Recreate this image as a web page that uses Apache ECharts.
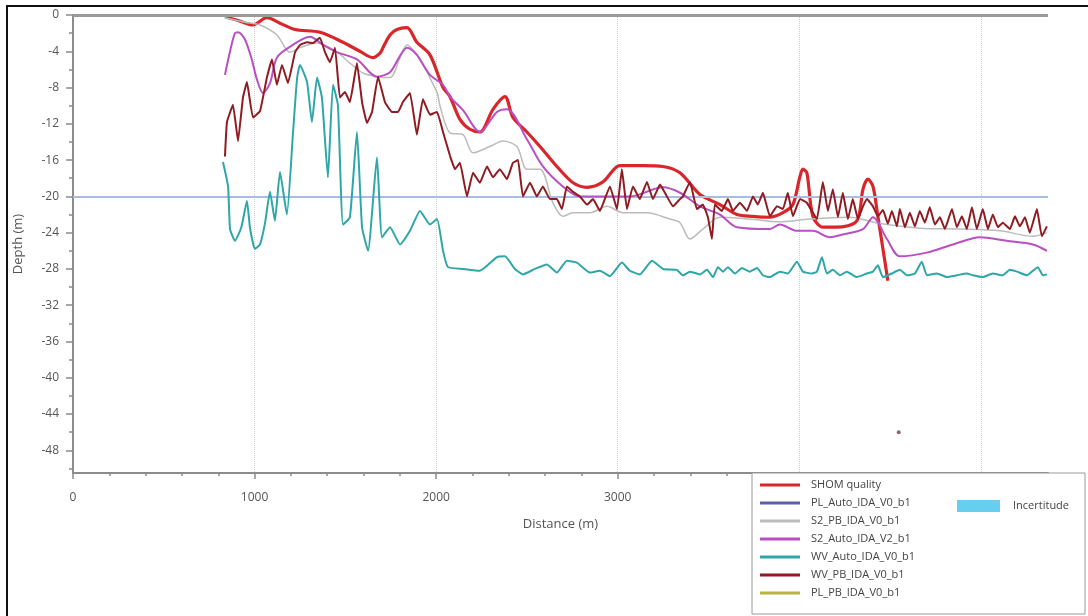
<!DOCTYPE html>
<html>
<head>
<meta charset="utf-8">
<script src="https://cdn.jsdelivr.net/npm/echarts@6/dist/echarts.min.js"></script>
<style>html,body{margin:0;padding:0;background:#fff}#c{width:1088px;height:616px}</style>
</head>
<body>
<div id="c"></div>
<script>
const seriesNames = ['SHOM quality','PL_Auto_IDA_V0_b1','S2_PB_IDA_V0_b1','S2_Auto_IDA_V2_b1','WV_Auto_IDA_V0_b1','WV_PB_IDA_V0_b1','PL_PB_IDA_V0_b1'];
const yTickLabels = [0,-4,-8,-12,-16,-20,-24,-28,-32,-36,-40,-44,-48];
const yMinorTicks = [-2,-6,-10,-14,-18,-22,-26,-30,-34,-38,-42,-46,-50];
const xTickLabels = [0,1000,2000,3000,4000,5000];
const referenceLines = [0,-20];

const shomQuality = [[837,-0.2],[909,-0.6],[991,-1.1],[1068,-0.3],[1140,-0.9],[1223,-1.6],[1360,-1.9],[1487,-3.0],[1580,-4.0],[1652,-4.7],[1691,-4.2],[1707,-3.6],[1746,-2.2],[1784,-1.6],[1839,-1.4],[1894,-3.0],[1966,-4.4],[2038,-8.0],[2076,-9.0],[2131,-11.5],[2186,-12.6],[2241,-12.9],[2313,-10.4],[2379,-9.0],[2423,-11.3],[2500,-12.9],[2572,-14.5],[2665,-16.7],[2754,-18.5],[2831,-19.0],[2919,-18.4],[3012,-16.6],[3139,-16.6],[3249,-16.7],[3343,-17.4],[3453,-19.8],[3563,-20.9],[3657,-22.0],[3745,-22.2],[3838,-22.3],[3910,-21.8],[3965,-20.9],[4004,-17.8],[4020,-17.0],[4042,-17.4],[4075,-22.2],[4130,-23.4],[4207,-23.4],[4317,-22.7],[4351,-19.2],[4378,-18.1],[4406,-18.9],[4433,-22.2],[4461,-25.8],[4488,-29.3]];
const shomIsolated = [[4548,-46]];
const plAuto = [];
const s2Pb = [[837,-0.3],[947,-0.8],[1030,-1.1],[1123,-2.2],[1195,-4.1],[1250,-3.6],[1344,-3.1],[1454,-4.1],[1525,-5.3],[1597,-6.4],[1674,-6.8],[1746,-6.9],[1801,-4.7],[1839,-3.3],[1894,-4.4],[2005,-8.5],[2021,-10.0],[2076,-13.0],[2148,-13.2],[2203,-15.2],[2296,-14.5],[2368,-13.9],[2445,-14.5],[2500,-17.0],[2572,-17.0],[2643,-20.7],[2698,-22.2],[2754,-21.8],[2847,-21.8],[2941,-21.1],[3029,-21.8],[3161,-21.8],[3288,-22.5],[3343,-22.9],[3398,-24.7],[3469,-23.6],[3563,-22.3],[3728,-22.5],[3893,-22.8],[4059,-22.5],[4279,-22.3],[4444,-23.0],[4664,-23.5],[4885,-23.6],[5105,-23.8],[5287,-24.4],[5364,-24.0]];
const s2Auto = [[837,-6.6],[865,-4.0],[892,-2.0],[909,-1.9],[947,-2.7],[986,-5.0],[1013,-7.1],[1046,-8.6],[1085,-7.5],[1123,-4.7],[1195,-3.5],[1305,-2.4],[1377,-3.3],[1454,-4.1],[1564,-4.9],[1674,-6.8],[1746,-6.3],[1801,-4.5],[1839,-3.6],[1894,-4.4],[1966,-6.6],[2038,-7.7],[2076,-9.0],[2148,-10.5],[2241,-12.9],[2335,-10.7],[2390,-10.4],[2500,-13.7],[2588,-16.7],[2698,-18.9],[2792,-20.0],[2886,-20.0],[3067,-20.0],[3249,-19.0],[3343,-19.6],[3453,-21.1],[3563,-22.0],[3657,-23.4],[3838,-23.6],[3893,-23.1],[3987,-23.8],[4075,-23.8],[4169,-24.5],[4240,-24.2],[4351,-23.6],[4406,-22.3],[4483,-24.7],[4554,-26.6],[4703,-26.2],[4846,-25.3],[4995,-24.5],[5143,-24.9],[5287,-25.3],[5364,-26.0]];
const wvAuto = [[826,-16.2],[854,-18.9],[865,-23.6],[892,-24.9],[920,-23.8],[931,-23.1],[958,-20.5],[975,-23.5],[1002,-25.8],[1030,-25.3],[1057,-23.0],[1085,-19.5],[1112,-22.7],[1140,-17.3],[1178,-22.0],[1212,-12.9],[1234,-7.0],[1250,-5.5],[1289,-7.4],[1316,-11.8],[1344,-6.9],[1371,-9.1],[1404,-17.9],[1432,-7.7],[1459,-9.9],[1487,-23.1],[1525,-22.3],[1564,-12.9],[1592,-23.4],[1625,-26.0],[1674,-15.7],[1702,-24.5],[1746,-23.4],[1801,-25.3],[1856,-23.8],[1911,-21.6],[1966,-23.1],[2005,-22.5],[2038,-26.0],[2065,-27.8],[2148,-28.0],[2241,-28.2],[2335,-26.7],[2379,-26.6],[2434,-28.0],[2478,-28.6],[2544,-28.0],[2610,-27.5],[2665,-28.4],[2720,-27.1],[2775,-27.3],[2847,-28.4],[2902,-28.2],[2957,-28.8],[3023,-27.3],[3067,-28.2],[3122,-28.6],[3189,-27.1],[3249,-28.0],[3326,-28.1],[3359,-28.7],[3398,-28.3],[3453,-28.6],[3491,-28.1],[3525,-28.9],[3552,-27.8],[3580,-28.3],[3607,-27.8],[3646,-28.5],[3684,-27.9],[3728,-28.3],[3767,-27.9],[3800,-28.7],[3838,-28.9],[3893,-28.3],[3937,-28.5],[3987,-27.2],[4020,-28.3],[4070,-28.5],[4097,-28.3],[4125,-26.7],[4152,-28.5],[4185,-28.1],[4224,-28.7],[4262,-28.3],[4317,-28.9],[4373,-28.5],[4406,-28.3],[4433,-27.6],[4461,-28.9],[4510,-28.5],[4554,-28.1],[4593,-28.7],[4637,-28.5],[4675,-27.2],[4703,-28.7],[4758,-28.5],[4813,-28.9],[4868,-28.7],[4923,-28.5],[4956,-28.7],[5011,-28.9],[5066,-28.5],[5121,-28.7],[5160,-28.1],[5199,-28.3],[5254,-28.7],[5314,-27.8],[5342,-28.7],[5364,-28.6]];
const wvPb = [[837,-15.6],[848,-11.8],[881,-9.9],[909,-13.9],[936,-9.1],[958,-7.4],[991,-11.3],[1030,-10.6],[1068,-6.9],[1096,-4.9],[1123,-7.7],[1151,-5.5],[1184,-7.5],[1223,-4.1],[1250,-3.3],[1289,-3.0],[1322,-3.1],[1360,-2.5],[1388,-4.1],[1415,-5.2],[1443,-3.6],[1470,-9.1],[1498,-8.5],[1525,-9.6],[1564,-5.3],[1592,-9.6],[1619,-11.9],[1647,-10.7],[1680,-6.8],[1718,-9.6],[1757,-10.7],[1790,-10.7],[1817,-9.6],[1856,-8.6],[1894,-13.2],[1927,-9.3],[1966,-11.0],[2005,-10.7],[2038,-12.9],[2076,-15.5],[2104,-17.0],[2131,-16.3],[2170,-20.0],[2203,-17.4],[2241,-18.5],[2280,-16.7],[2313,-17.9],[2351,-17.0],[2390,-18.1],[2423,-16.3],[2451,-16.0],[2478,-20.0],[2517,-18.5],[2555,-20.0],[2588,-18.9],[2627,-20.3],[2665,-20.3],[2693,-21.4],[2720,-18.9],[2754,-19.5],[2792,-20.0],[2831,-20.9],[2864,-20.3],[2902,-21.6],[2957,-18.9],[2996,-21.4],[3023,-17.0],[3051,-21.4],[3084,-18.9],[3122,-20.3],[3161,-18.4],[3194,-20.3],[3233,-18.7],[3271,-20.0],[3304,-21.1],[3343,-20.3],[3359,-20.0],[3398,-18.4],[3436,-21.4],[3469,-20.9],[3497,-22.3],[3519,-24.7],[3535,-20.9],[3574,-21.6],[3607,-20.3],[3635,-21.6],[3673,-20.7],[3712,-21.6],[3745,-20.0],[3772,-20.9],[3800,-19.6],[3838,-22.2],[3877,-21.1],[3910,-21.4],[3937,-19.6],[3965,-22.2],[4004,-20.3],[4042,-20.7],[4097,-22.5],[4130,-18.4],[4158,-21.6],[4185,-19.2],[4213,-22.3],[4240,-19.6],[4268,-22.5],[4295,-20.3],[4323,-22.5],[4351,-21.1],[4373,-20.3],[4406,-21.1],[4433,-22.2],[4461,-21.5],[4488,-23.0],[4510,-21.6],[4538,-23.3],[4554,-21.4],[4582,-23.4],[4609,-21.8],[4637,-23.3],[4664,-21.6],[4692,-22.9],[4719,-21.2],[4747,-23.1],[4775,-22.3],[4802,-23.6],[4841,-21.4],[4868,-23.4],[4896,-22.2],[4923,-23.6],[4951,-21.2],[4978,-23.6],[5011,-21.4],[5039,-23.6],[5066,-22.0],[5094,-23.4],[5121,-22.9],[5160,-23.6],[5188,-22.2],[5215,-23.3],[5243,-22.3],[5270,-24.0],[5309,-21.4],[5336,-24.4],[5364,-23.3]];
const plPb = [];

const colors = ['#d8262b','#5a5fb2','#bcbcbc','#b94fc2','#2fa6a8','#8e1c22','#b6b43c'];
const incertitudeColor = '#66cff0';
const FONT = '"Open Sans", "Noto Sans", sans-serif';

const chart = echarts.init(document.getElementById('c'), null, {renderer: 'canvas'});
const dataList = [shomQuality, plAuto, s2Pb, s2Auto, wvAuto, wvPb, plPb];
const widths = [3.2, 1.8, 1.5, 2, 2, 2, 1.8];
const smooths = [0.3, 0.3, 0.3, 0.3, 0.15, 0.1, 0.3];

const series = seriesNames.map((n, i) => ({
  name: n, type: 'line', data: dataList[i], showSymbol: false, symbol: 'none',
  smooth: smooths[i], color: colors[i], lineStyle: {width: widths[i], color: colors[i]},
  z: 2 + i, animation: false
}));
series[0].markLine = {
  silent: true, symbol: 'none', label: {show: false}, animation: false,
  data: [
    {yAxis: referenceLines[0], lineStyle: {color: '#9a9a9a', width: 3, type: 'solid'}},
    {yAxis: referenceLines[1], lineStyle: {color: '#a8bde0', width: 2, type: 'solid'}}
  ]
};
series.push({name: 'SHOM point', type: 'scatter', data: shomIsolated, symbolSize: 4,
  itemStyle: {color: '#7d3b4a'}, z: 10, animation: false});
series.push({name: 'Incertitude', type: 'line', data: [], color: incertitudeColor,
  lineStyle: {color: incertitudeColor}, animation: false});

chart.setOption({
  animation: false,
  backgroundColor: '#fff',
  grid: {left: 73, right: 40, top: 15, bottom: 143, containLabel: false},
  xAxis: {
    type: 'value', min: 0, max: 5370, interval: 1000,
    name: 'Distance (m)', nameLocation: 'middle', nameGap: 45,
    nameTextStyle: {fontFamily: FONT, fontSize: 13, color: '#555'},
    axisLine: {onZero: false, lineStyle: {color: '#8c8c8c', width: 2}},
    axisTick: {length: 6, lineStyle: {color: '#8c8c8c', width: 1.5}},
    minorTick: {show: true, splitNumber: 5, length: 3, lineStyle: {color: '#8c8c8c', width: 1.5}},
    axisLabel: {margin: 19, fontFamily: FONT, fontSize: 12, color: '#555', showMaxLabel: false,
      formatter: v => (xTickLabels.indexOf(v) >= 0 ? String(v) : '')},
    splitLine: {show: true, showMinLine: false, showMaxLine: false, lineStyle: {color: '#cfcfcf', type: 'dotted', width: 1}}
  },
  yAxis: [{
    type: 'value', min: -50.5, max: 0,
    name: 'Depth (m)', nameLocation: 'middle', nameGap: 48,
    nameTextStyle: {fontFamily: FONT, fontSize: 13, color: '#555'},
    axisLine: {show: true, onZero: false, lineStyle: {color: '#8c8c8c', width: 2}},
    axisTick: {show: true, length: 7, customValues: yTickLabels, lineStyle: {color: '#8c8c8c', width: 1.5}},
    axisLabel: {customValues: yTickLabels, margin: 14, fontFamily: FONT, fontSize: 12, color: '#555'},
    splitLine: {show: false}
  }, {
    type: 'value', min: -50.5, max: 0, position: 'left', gridIndex: 0,
    axisLine: {show: false},
    axisTick: {show: true, length: 4, customValues: yMinorTicks, lineStyle: {color: '#8c8c8c', width: 1.5}},
    axisLabel: {show: false},
    splitLine: {show: false}
  }],
  legend: [{
    data: seriesNames, orient: 'vertical', left: 760, top: 478, padding: 0,
    itemWidth: 40, itemHeight: 3, itemGap: 4, icon: 'rect', z: 60,
    textStyle: {fontFamily: FONT, fontSize: 11, color: '#444', lineHeight: 14, padding: [0, 0, 0, 6]},
    selectedMode: false
  }, {
    data: ['Incertitude'], left: 957, top: 500, padding: 0, icon: 'rect',
    itemWidth: 43, itemHeight: 12, z: 60,
    textStyle: {fontFamily: FONT, fontSize: 11, color: '#444', padding: [0, 0, 0, 8]},
    selectedMode: false
  }],
  graphic: [
    {type: 'rect', z: 50, shape: {x: 752, y: 473, width: 333, height: 141},
      style: {fill: '#fff', stroke: '#9a9a9a', lineWidth: 1}},
    {type: 'rect', z: 70, shape: {x: 7, y: 6, width: 1200, height: 800},
      style: {fill: 'none', stroke: '#111', lineWidth: 2}}
  ],
  series: series
});
</script>
</body>
</html>
